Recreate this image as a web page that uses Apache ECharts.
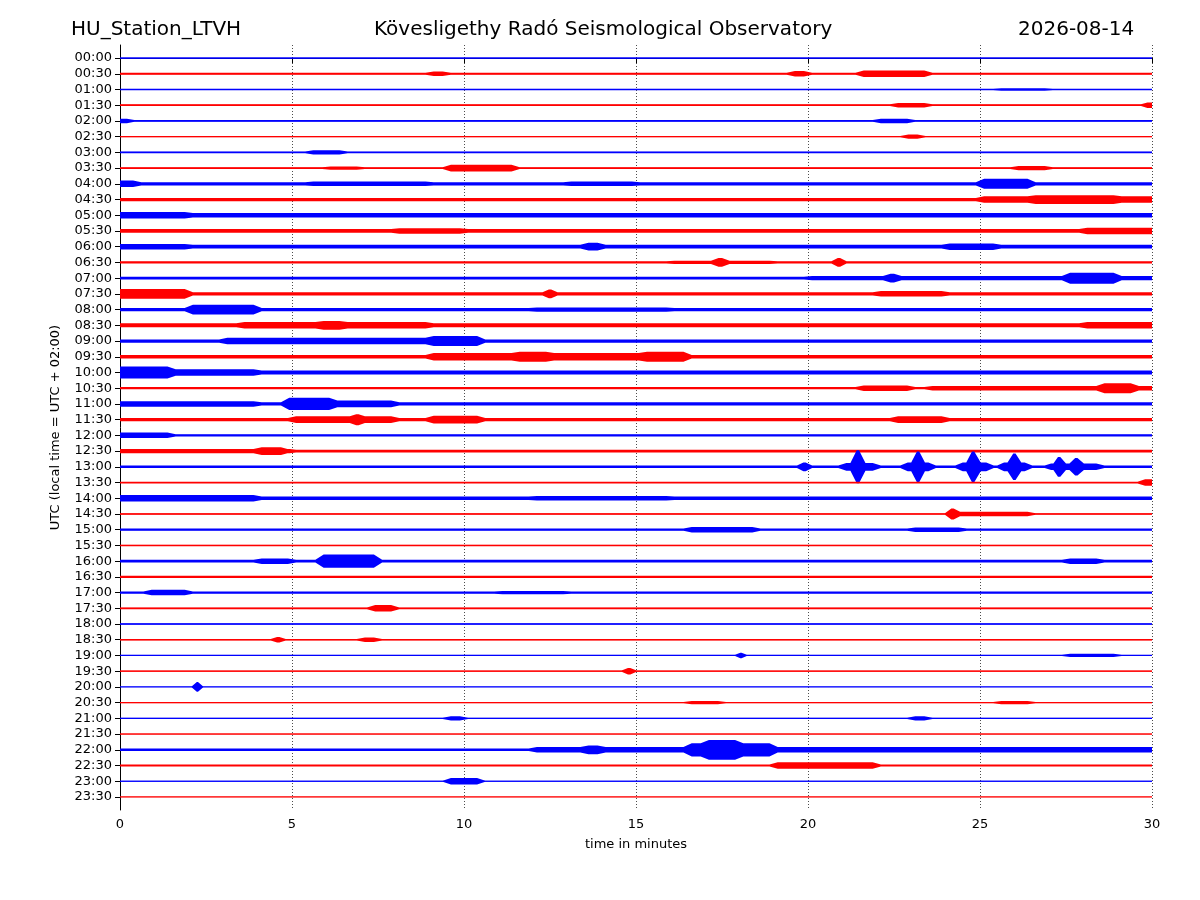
<!DOCTYPE html>
<html>
<head>
<meta charset="utf-8">
<script src="https://cdn.jsdelivr.net/npm/echarts@6/dist/echarts.min.js"></script>
<style>html,body{margin:0;padding:0;background:#fff}#chart{width:1200px;height:900px}</style>
</head>
<body>
<div id="chart"></div>
<script>
// row labels (UTC)
var rowLabels = [];
for (var h = 0; h < 24; h++) {
    var hh = (h < 10 ? '0' : '') + h;
    rowLabels.push(hh + ':00', hh + ':30');
}
// background noise half-amplitude per row, in row units
var baseAmp = [
    0.06,0.10,0.07,0.08,0.08,0.06,0.07,0.08,0.15,0.15,
    0.20,0.17,0.17,0.10,0.12,0.15,0.15,0.18,0.15,0.15,
    0.18,0.10,0.15,0.15,0.10,0.12,0.12,0.08,0.15,0.07,
    0.10,0.07,0.12,0.10,0.10,0.08,0.07,0.07,0.06,0.06,
    0.04,0.06,0.06,0.05,0.12,0.10,0.05,0.03
];
// events per row: [start minute, end minute, half-amplitude]
var events = [
    [],
    [[9,9.5,0.2],[19.5,20,0.25],[21.5,23.5,0.3]],
    [[25.5,27,0.12]],
    [[22.5,23.5,0.2],[29.8,30,0.25]],
    [[0,0.3,0.2],[22,23,0.2]],
    [[22.8,23.3,0.2]],
    [[5.5,6.5,0.2]],
    [[6,7,0.15],[9.5,11.5,0.3],[26,27,0.2]],
    [[0,0.5,0.3],[5.5,9,0.2],[13,15,0.2],[25,26.5,0.45]],
    [[25,30,0.3],[26.5,29,0.4]],
    [[0,2,0.3]],
    [[8,10,0.25],[28,30,0.3]],
    [[0,2,0.25],[13.5,14,0.35],[24,25.5,0.3]],
    [[16,19,0.15],[17.3,17.6,0.4],[20.8,21,0.4]],
    [[20,30,0.2],[22.3,22.6,0.4],[27.5,29,0.5]],
    [[0,2,0.45],[12.4,12.6,0.4],[22,24,0.25]],
    [[2,4,0.45],[12,16,0.2]],
    [[3.5,9,0.3],[5.8,6.5,0.4],[28,30,0.3]],
    [[3,10,0.3],[9,10.5,0.45]],
    [[9,16.5,0.35],[11.5,12.5,0.45],[15.2,16.5,0.45]],
    [[0,1.5,0.55],[1.5,4,0.3]],
    [[21.5,23,0.25],[23.5,30,0.2],[28.5,29.5,0.45]],
    [[0,4,0.25],[4.8,6.2,0.55],[6.2,8,0.3]],
    [[5,8,0.3],[6.8,7,0.5],[9,10.5,0.35],[22.5,24,0.3]],
    [[0,1.5,0.25]],
    [[0,5,0.2],[4,4.8,0.35]],
    [[19.8,20,0.4],[21,22,0.35],[21.35,21.55,1.5],[22.8,23.6,0.4],[23.1,23.3,1.4],
     [24.4,25.3,0.4],[24.7,24.9,1.4],[25.6,26.4,0.4],[25.9,26.1,1.2],[27,28.5,0.3],
     [27.2,27.4,0.9],[27.7,27.9,0.8]],
    [[29.7,30,0.3]],
    [[0,4,0.3],[12,16,0.2]],
    [[24.1,24.3,0.5],[24.3,26.5,0.2]],
    [[16.5,18.5,0.25],[23,24.5,0.2]],
    [],
    [[4,5,0.25],[5.8,7.5,0.6],[27.5,28.5,0.25]],
    [],
    [[0.8,2,0.25],[11,13,0.15]],
    [[7.3,8,0.3]],
    [],
    [[4.5,4.7,0.25],[7,7.5,0.2]],
    [[18,18.1,0.25],[27.5,29,0.15]],
    [[14.7,14.9,0.3]],
    [[2.2,2.3,0.45]],
    [[16.5,17.5,0.15],[25.5,26.5,0.15]],
    [[9.5,10,0.2],[23,23.5,0.2]],
    [],
    [[12,30,0.25],[13.5,14,0.4],[16.5,19,0.6],[17,18,0.9]],
    [[19,22,0.3]],
    [[9.5,10.5,0.3]],
    []
];
var traceColors = ['#0000ff', '#ff0000'];
var ampScale = 0.7;

var rows = rowLabels.map(function (l, i) { return [i]; });

function renderTrace(params, api) {
    var r = api.value(0);
    var ev = events[r];
    var cuts = [0, 30];
    ev.forEach(function (e) { cuts.push(e[0], e[1]); });
    cuts.sort(function (a, b) { return a - b; });
    var top = [], bot = [];
    for (var k = 0; k < cuts.length - 1; k++) {
        var a = cuts[k], b = cuts[k + 1];
        if (b <= a) continue;
        var mid = (a + b) / 2, amp = baseAmp[r];
        ev.forEach(function (e) { if (mid >= e[0] && mid <= e[1] && e[2] > amp) amp = e[2]; });
        amp *= ampScale;
        var d = Math.min(0.12, (b - a) / 3);
        var xa = a === 0 ? 0 : a + d, xb = b === 30 ? 30 : b - d;
        top.push(api.coord([xa, r - amp]), api.coord([xb, r - amp]));
        bot.push(api.coord([xa, r + amp]), api.coord([xb, r + amp]));
    }
    var color = traceColors[r % 2];
    var p0 = api.coord([0, r]), p1 = api.coord([30, r]);
    return {
        type: 'group',
        children: [
            { type: 'polygon', shape: { points: top.concat(bot.reverse()) }, style: { fill: color } },
            { type: 'line', shape: { x1: p0[0], y1: p0[1], x2: p1[0], y2: p1[1] },
              style: { stroke: color, lineWidth: 1 } }
        ]
    };
}

var chart = echarts.init(document.getElementById('chart'));
var ticks = rows.map(function (d) { return d[0]; });
chart.setOption({
    animation: false,
    textStyle: { fontFamily: 'DejaVu Sans' },
    title: [
        { text: 'HU_Station_LTVH', left: 66, top: 15, textStyle: { fontSize: 20, fontWeight: 'normal', color: '#000' } },
        { text: 'Kövesligethy Radó Seismological Observatory', left: 369, top: 15, textStyle: { fontSize: 20, fontWeight: 'normal', color: '#000' } },
        { text: '2026-08-14', left: 1013, top: 15, textStyle: { fontSize: 20, fontWeight: 'normal', color: '#000' } }
    ],
    grid: { left: 120, right: 48, top: 45, bottom: 90 },
    xAxis: {
        type: 'value', min: 0, max: 30, interval: 5,
        name: 'time in minutes', nameLocation: 'middle', nameGap: 28,
        nameTextStyle: { fontSize: 13, color: '#000' },
        axisLine: { lineStyle: { color: '#000' } },
        axisTick: { lineStyle: { color: '#000' } },
        axisLabel: { fontSize: 13, color: '#000' },
        splitLine: { show: true, lineStyle: { color: '#000', type: [1, 2], width: 0.7 } }
    },
    yAxis: {
        type: 'value', inverse: true, min: -0.83, max: 47.83,
        name: 'UTC (local time = UTC + 02:00)', nameLocation: 'middle', nameGap: 58,
        nameTextStyle: { fontSize: 13, color: '#000' },
        axisLine: { show: true, lineStyle: { color: '#000' } },
        axisTick: { show: true, customValues: ticks, lineStyle: { color: '#000' } },
        axisLabel: { customValues: ticks, fontSize: 13, color: '#000',
            formatter: function (v) { return rowLabels[Math.round(v)]; } },
        splitLine: { show: false }
    },
    series: [{
        type: 'custom',
        renderItem: renderTrace,
        data: rows,
        encode: { y: 0 },
        clip: true
    }]
});
</script>
</body>
</html>
